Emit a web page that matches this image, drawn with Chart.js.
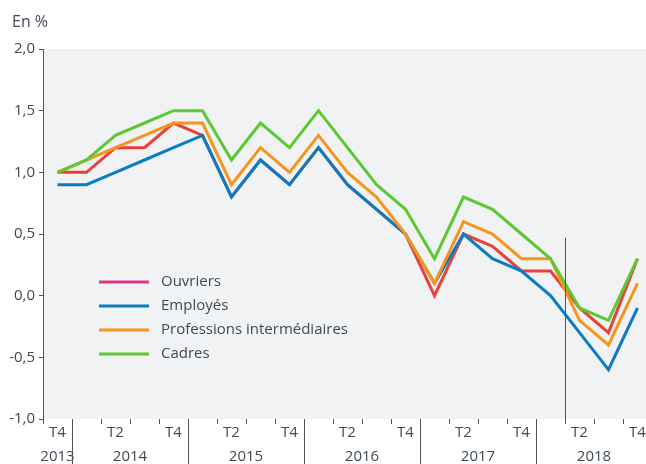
<!DOCTYPE html>
<html><head><meta charset="utf-8">
<script src="https://cdn.jsdelivr.net/npm/chart.js@4"></script>
<style>
html,body{margin:0;padding:0;background:#fff;overflow:hidden;width:646px;height:464px}
#wrap{width:646px;height:464px;overflow:hidden;position:relative}
canvas{display:block}
</style></head><body>
<div id="wrap"><canvas id="c" width="652" height="464"></canvas></div>
<script>
const quarters = ['T4','T1','T2','T3','T4','T1','T2','T3','T4','T1','T2','T3','T4','T1','T2','T3','T4','T1','T2','T3','T4'];
const years = ['2013','2014','2015','2016','2017','2018'];
const yearTicks = [-1.0,-0.5,0.0,0.5,1.0,1.5,2.0];
const ouvriers    = [1.0,1.0,1.2,1.2,1.4,1.3,0.8,1.1,0.9,1.2,0.9,0.7,0.5,0.0,0.5,0.4,0.2,0.2,-0.1,-0.3,0.3];
const employes    = [0.9,0.9,1.0,1.1,1.2,1.3,0.8,1.1,0.9,1.2,0.9,0.7,0.5,0.1,0.5,0.3,0.2,0.0,-0.3,-0.6,-0.1];
const professions = [1.0,1.1,1.2,1.3,1.4,1.4,0.9,1.2,1.0,1.3,1.0,0.8,0.5,0.1,0.6,0.5,0.3,0.3,-0.2,-0.4,0.1];
const cadres      = [1.0,1.1,1.3,1.4,1.5,1.5,1.1,1.4,1.2,1.5,1.2,0.9,0.7,0.3,0.8,0.7,0.5,0.3,-0.1,-0.2,0.3];
const seriesNames = ['Ouvriers','Employés','Professions intermédiaires','Cadres'];
const breakAfterIndex = 17;   // vertical marker between 2018 T1 and 2018 T2
const breakTopValue = 0.47;

const TXT = '#3f4a54';
const FONT = '"Open Sans", "Noto Sans", sans-serif';
const lineColors = ['#e8413a','#0a7cc2','#f7941e','#5cc834'];
const legendColors = ['#e0338a','#0a7cc2','#f7941e','#5cc834'];

// year spans from quarter sequence
const spans = [];
quarters.forEach((q,i)=>{
  if(i===0 || q==='T1') spans.push({start:i,end:i});
  else spans[spans.length-1].end = i;
});

const deco = {
  id:'deco',
  beforeDraw(chart){
    const {ctx, chartArea:a} = chart;
    ctx.save();
    ctx.fillStyle = '#f1f2f4';
    ctx.fillRect(a.left, a.top, a.right-a.left, a.bottom-a.top);
    ctx.restore();
  },
  afterDraw(chart){
    const {ctx, chartArea:a, scales:{x,y}} = chart;
    ctx.save();
    // En %
    ctx.fillStyle = TXT;
    ctx.font = '16px ' + FONT;
    ctx.textAlign = 'left'; ctx.textBaseline = 'middle';
    ctx.fillText('En %', 12, 22);
    // year separators & labels
    ctx.strokeStyle = '#4a5560'; ctx.lineWidth = 1;
    ctx.font = '15px ' + FONT;
    ctx.textAlign = 'center';
    spans.forEach((s,k)=>{
      const x0 = x.getPixelForValue(s.start), x1 = x.getPixelForValue(s.end);
      ctx.fillText(years[k], (x0+x1)/2, 457);
      if(k < spans.length-1){
        const xs = Math.round((x1 + x.getPixelForValue(spans[k+1].start))/2) + 0.5;
        ctx.beginPath(); ctx.moveTo(xs, a.bottom); ctx.lineTo(xs, chart.height); ctx.stroke();
      }
    });
    // break marker
    const xb = Math.round((x.getPixelForValue(breakAfterIndex)+x.getPixelForValue(breakAfterIndex+1))/2)+0.5;
    ctx.beginPath(); ctx.moveTo(xb, y.getPixelForValue(breakTopValue)); ctx.lineTo(xb, a.bottom); ctx.stroke();
    // legend
    ctx.font = '15px ' + FONT;
    ctx.textAlign = 'left'; ctx.textBaseline = 'middle';
    seriesNames.forEach((n,i)=>{
      const ly = 282 + i*24;
      ctx.strokeStyle = legendColors[i]; ctx.lineWidth = 3;
      ctx.beginPath(); ctx.moveTo(99, ly); ctx.lineTo(149, ly); ctx.stroke();
      ctx.fillStyle = TXT;
      ctx.fillText(n, 161, ly);
    });
    ctx.restore();
  }
};

const values = [ouvriers, employes, professions, cadres];
new Chart(document.getElementById('c'), {
  type:'line',
  data:{
    labels: quarters,
    datasets: values.map((v,i)=>({
      label: seriesNames[i], data: v,
      borderColor: lineColors[i], backgroundColor: lineColors[i],
      borderWidth: 3, pointRadius: 0, tension: 0, fill: false,
      order: 3 - i, borderJoinStyle: 'miter'
    }))
  },
  options:{
    responsive:false, animation:false, devicePixelRatio:1,
    layout:{padding:{top:49,left:0,right:0,bottom:0}},
    plugins:{legend:{display:false}, tooltip:{enabled:false}},
    scales:{
      x:{
        type:'category', offset:true,
        grid:{display:true, drawOnChartArea:false, drawTicks:true, tickLength:5, offset:true, color:'#4a5560'},
        border:{display:false},
        ticks:{autoSkip:false, maxRotation:0, minRotation:0, padding:0, color:TXT, font:{family:FONT, size:15},
          callback:(v,i)=> (quarters[i]==='T2'||quarters[i]==='T4') ? quarters[i] : ''},
        afterFit:(s)=>{ s.height = 45; }
      },
      y:{
        min:-1, max:2,
        afterBuildTicks:(s)=>{ s.ticks = yearTicks.map(v=>({value:v})); },
        grid:{display:true, drawOnChartArea:false, drawTicks:true, tickLength:4, color:'#4a5560'},
        border:{display:true, color:'#4a5560', width:1},
        ticks:{padding:4, color:TXT, font:{family:FONT, size:15},
          callback:(v)=> Number(v).toFixed(1).replace('.',',')},
        afterFit:(s)=>{ s.width = 43; }
      }
    }
  },
  plugins:[deco]
});
</script>
</body></html>
